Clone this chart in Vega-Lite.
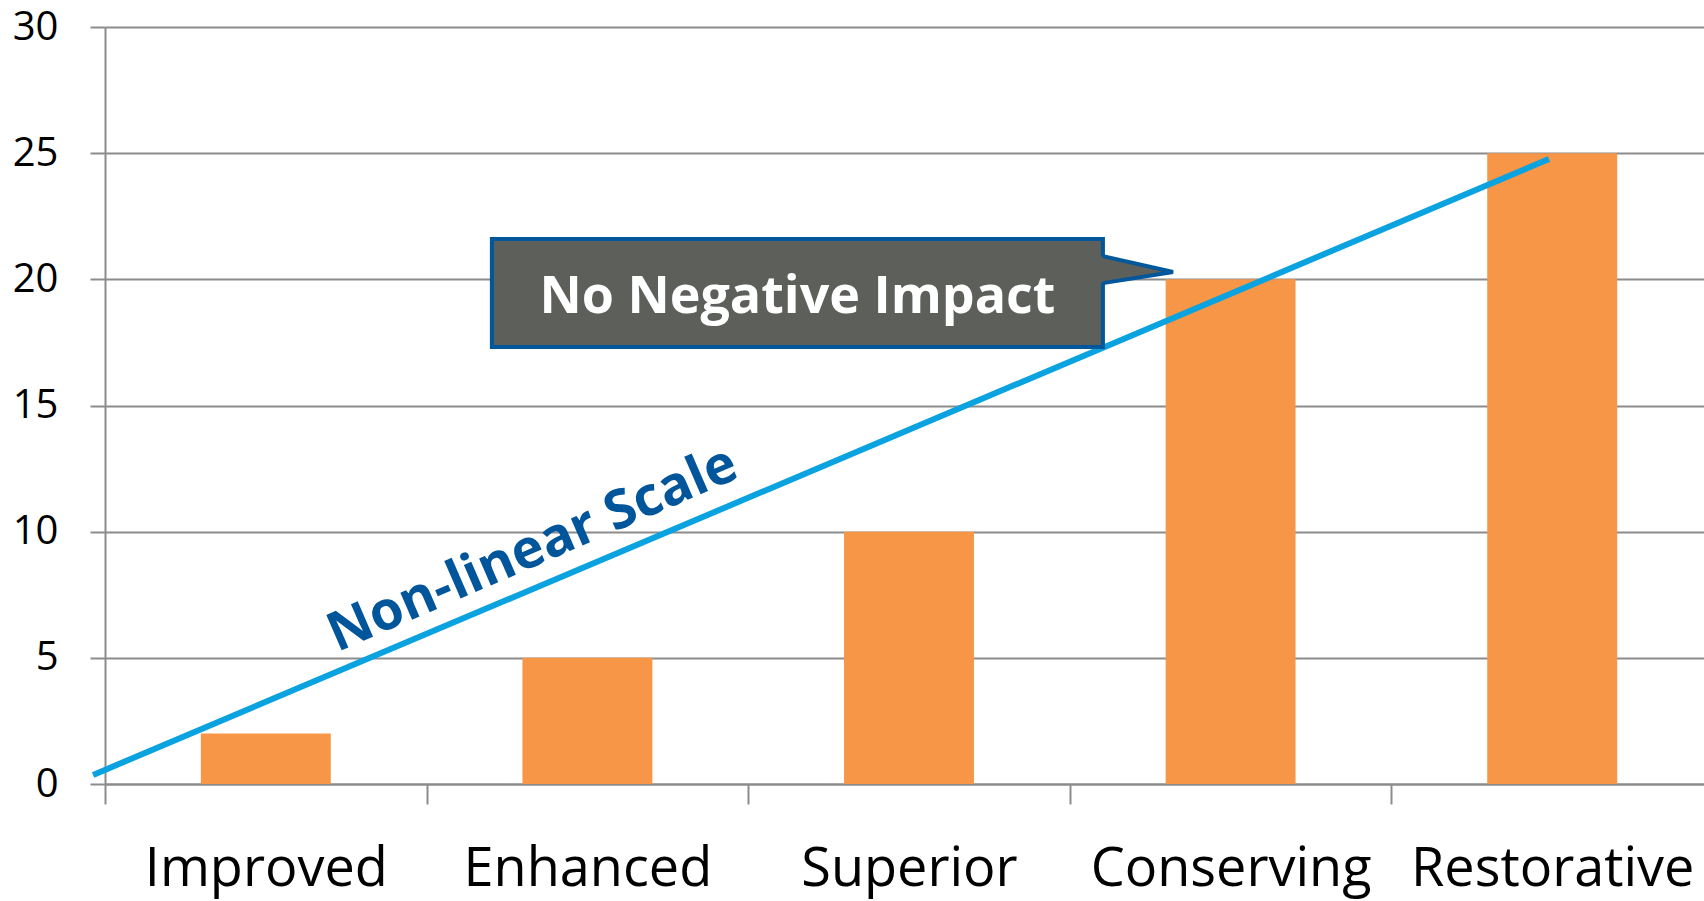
{
  "$schema": "https://vega.github.io/schema/vega-lite/v6.json",
  "autosize": "none",
  "width": 1599,
  "height": 757,
  "padding": {"left": 105, "top": 27, "right": 0, "bottom": 117},
  "background": "white",
  "config": {
    "view": {"stroke": null},
    "font": "Open Sans"
  },
  "resolve": {"scale": {"x": "independent"}, "axis": {"x": "independent"}},
  "layer": [
    {
      "data": {"values": [
        {"level": "Improved", "score": 2},
        {"level": "Enhanced", "score": 5},
        {"level": "Superior", "score": 10},
        {"level": "Conserving", "score": 20},
        {"level": "Restorative", "score": 25}
      ]},
      "mark": {"type": "bar", "color": "#F79646", "width": {"band": 0.404}},
      "encoding": {
        "x": {
          "field": "level", "type": "nominal", "sort": null,
          "scale": {"paddingInner": 0, "paddingOuter": 0, "range": [0, 1608]},
          "axis": {
            "title": null, "labelAngle": 0, "labelLimit": 0,
            "labelFont": "Open Sans", "labelFontSize": 54, "labelColor": "#000000",
            "labelBaseline": "alphabetic", "labelPadding": 81,
            "tickBand": "extent", "tickSize": 20, "tickColor": "#8c8c8c", "tickWidth": 2,
            "domainColor": "#8c8c8c", "domainWidth": 2, "grid": false
          }
        },
        "y": {
          "field": "score", "type": "quantitative",
          "scale": {"domain": [0, 30], "nice": false},
          "axis": {
            "title": null, "values": [0, 5, 10, 15, 20, 25, 30],
            "labelFont": "Open Sans", "labelFontSize": 40, "labelColor": "#000000",
            "labelPadding": 32, "tickSize": 15, "tickColor": "#8c8c8c", "tickWidth": 2,
            "domainColor": "#8c8c8c", "domainWidth": 2,
            "grid": true, "gridColor": "#8c8c8c", "gridWidth": 2
          }
        }
      }
    },
    {
      "data": {"values": [
        {"pos": -0.037, "val": 0.36},
        {"pos": 4.49, "val": 24.77}
      ]},
      "mark": {"type": "line", "color": "#0AA3E0", "strokeWidth": 6, "strokeCap": "butt"},
      "encoding": {
        "x": {"field": "pos", "type": "quantitative", "scale": {"domain": [0, 5], "range": [0, 1608], "nice": false, "zero": false}, "axis": null},
        "y": {"field": "val", "type": "quantitative"}
      }
    },
    {
      "data": {"values": [
        {"text": "Non-linear Scale", "pos": 1.35, "val": 8.7}
      ]},
      "mark": {"type": "text", "font": "Open Sans", "fontWeight": "bold", "fontSize": 54, "color": "#00559B", "angle": -23.5, "align": "center", "baseline": "alphabetic"},
      "encoding": {
        "x": {"field": "pos", "type": "quantitative", "scale": {"domain": [0, 5], "range": [0, 1608], "nice": false, "zero": false}, "axis": null},
        "y": {"field": "val", "type": "quantitative"},
        "text": {"field": "text"}
      }
    },
    {
      "data": {"values": [
        {"pos": 1.203, "pos2": 3.103, "val": 21.6, "val2": 17.32}
      ]},
      "mark": {"type": "rect", "fill": "#5D5F5B", "stroke": "#00579B", "strokeWidth": 4},
      "encoding": {
        "x": {"field": "pos", "type": "quantitative", "scale": {"domain": [0, 5], "range": [0, 1608], "nice": false, "zero": false}, "axis": null},
        "x2": {"field": "pos2"},
        "y": {"field": "val", "type": "quantitative"},
        "y2": {"field": "val2"}
      }
    },
    {
      "data": {"values": [
        {"pos": 3.092, "top": 20.92, "bottom": 19.85},
        {"pos": 3.321, "top": 20.29, "bottom": 20.29}
      ]},
      "mark": {"type": "area", "color": "#5D5F5B", "opacity": 1},
      "encoding": {
        "x": {"field": "pos", "type": "quantitative", "scale": {"domain": [0, 5], "range": [0, 1608], "nice": false, "zero": false}, "axis": null},
        "y": {"field": "top", "type": "quantitative"},
        "y2": {"field": "bottom"}
      }
    },
    {
      "data": {"values": [
        {"seq": 1, "pos": 3.103, "val": 20.92},
        {"seq": 2, "pos": 3.321, "val": 20.29},
        {"seq": 3, "pos": 3.103, "val": 19.85}
      ]},
      "mark": {"type": "line", "color": "#00579B", "strokeWidth": 4, "strokeJoin": "miter"},
      "encoding": {
        "x": {"field": "pos", "type": "quantitative", "scale": {"domain": [0, 5], "range": [0, 1608], "nice": false, "zero": false}, "axis": null},
        "y": {"field": "val", "type": "quantitative"},
        "order": {"field": "seq", "type": "quantitative"}
      }
    },
    {
      "data": {"values": [
        {"text": "No Negative Impact", "pos": 2.153, "val": 18.67}
      ]},
      "mark": {"type": "text", "font": "Open Sans", "fontWeight": "bold", "fontSize": 52, "color": "#FFFFFF", "align": "center", "baseline": "alphabetic"},
      "encoding": {
        "x": {"field": "pos", "type": "quantitative", "scale": {"domain": [0, 5], "range": [0, 1608], "nice": false, "zero": false}, "axis": null},
        "y": {"field": "val", "type": "quantitative"},
        "text": {"field": "text"}
      }
    }
  ]
}
